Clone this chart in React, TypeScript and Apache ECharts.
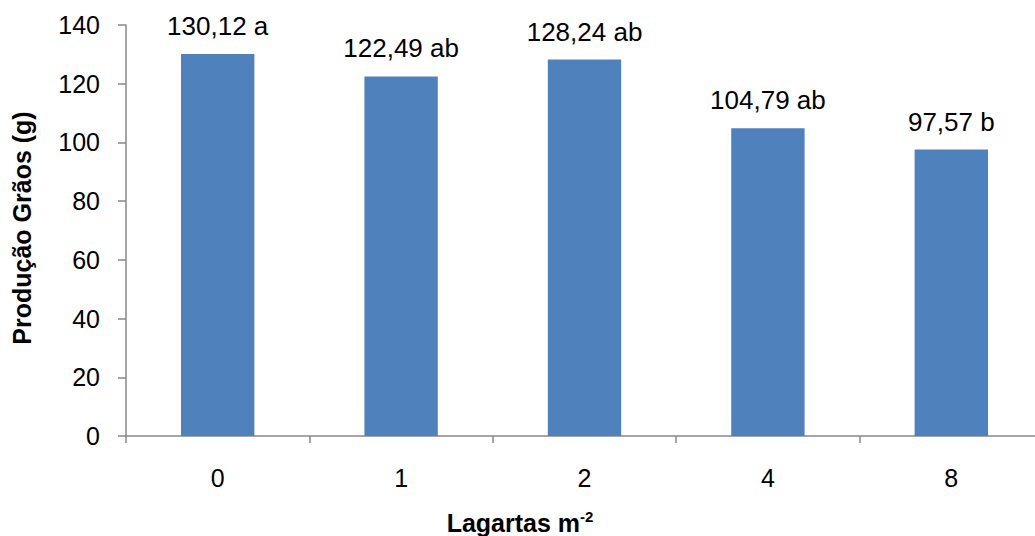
import React, { useEffect, useRef } from "react";
import * as echarts from "echarts";

const categories = ["0", "1", "2", "4", "8"];
const values = [130.12, 122.49, 128.24, 104.79, 97.57];
const valueLabels = ["130,12 a", "122,49 ab", "128,24 ab", "104,79 ab", "97,57 b"];
const yTitle = "Produção Grãos (g)";
const xTitleMain = "Lagartas m";
const xTitleSup = "-2";

const FONT = "'Liberation Sans', Arial, sans-serif";
const AXIS_COLOR = "#898989";

export default function App() {
  const ref = useRef<HTMLDivElement>(null);
  useEffect(() => {
    if (!ref.current) return;
    const chart = echarts.init(ref.current, null, { renderer: "svg" });
    chart.setOption({
      animation: false,
      backgroundColor: "#ffffff",
      textStyle: { fontFamily: FONT },
      grid: { left: 126, top: 25, width: 917, height: 411 },
      xAxis: {
        type: "category",
        data: categories,
        boundaryGap: true,
        axisLine: { lineStyle: { color: AXIS_COLOR, width: 1.5 } },
        axisTick: { show: true, length: 7, lineStyle: { color: AXIS_COLOR, width: 1.5 } },
        axisLabel: { color: "#000", fontSize: 25, fontFamily: FONT, margin: 29 },
      },
      yAxis: {
        type: "value",
        min: 0,
        max: 140,
        interval: 20,
        splitLine: { show: false },
        axisLine: { show: true, lineStyle: { color: AXIS_COLOR, width: 1.5 } },
        axisTick: { show: true, length: 8, lineStyle: { color: AXIS_COLOR, width: 1.5 } },
        axisLabel: { color: "#000", fontSize: 25, fontFamily: FONT, margin: 26 },
      },
      series: [
        {
          type: "bar",
          data: values.map((v, i) => ({ value: v, label: { formatter: valueLabels[i] } })),
          barWidth: "40%",
          itemStyle: { color: "#4F81BD" },
          label: {
            show: true,
            position: "top",
            distance: 15,
            color: "#000",
            fontSize: 26,
            fontFamily: FONT,
          },
        },
      ],
      graphic: [
        {
          type: "text",
          x: 22,
          y: 228,
          rotation: Math.PI / 2,
          style: {
            text: yTitle,
            font: `bold 25px ${FONT}`,
            fill: "#000",
            textAlign: "center",
            textVerticalAlign: "middle",
          },
        },
        {
          type: "text",
          x: 520,
          y: 522,
          style: {
            text: `{m|${xTitleMain}}{s|${xTitleSup}}`,
            rich: {
              m: { font: `bold 25px ${FONT}`, fill: "#000", verticalAlign: "bottom" },
              s: { font: `bold 15px ${FONT}`, fill: "#000", padding: [0, 0, 12, 0] },
            },
            textAlign: "center",
            textVerticalAlign: "middle",
          },
        },
      ],
    });
    return () => chart.dispose();
  }, []);
  return (
    <div
      style={{
        position: "absolute",
        left: 0,
        top: 0,
        width: 1035,
        height: 536,
        overflow: "hidden",
        background: "#fff",
      }}
    >
      <div ref={ref} style={{ width: 1060, height: 536 }} />
    </div>
  );
}
